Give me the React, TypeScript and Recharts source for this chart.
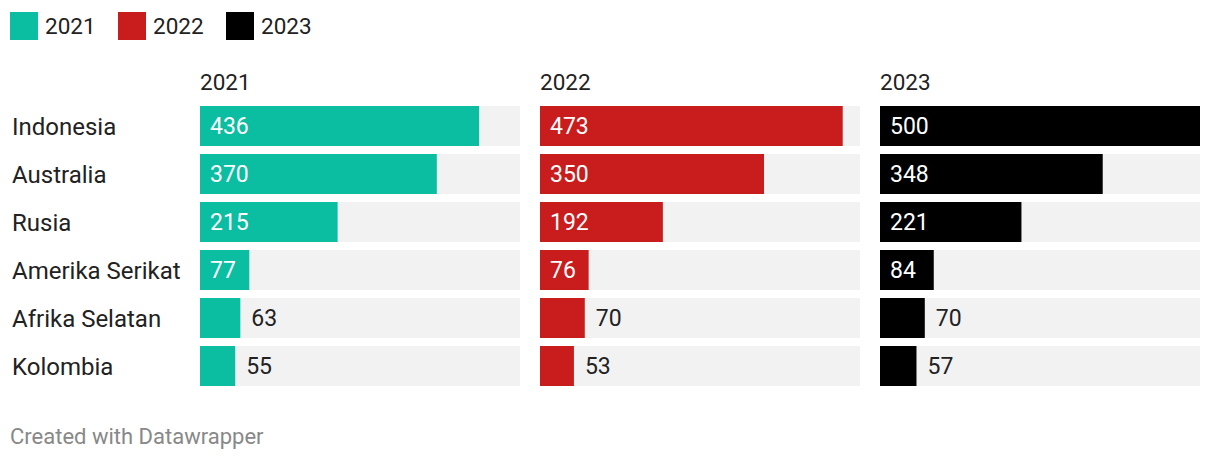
import { Bar, BarChart, LabelList, XAxis, YAxis } from "recharts";

const countries = ["Indonesia", "Australia", "Rusia", "Amerika Serikat", "Afrika Selatan", "Kolombia"];
const years = ["2021", "2022", "2023"];
const values2021 = [436, 370, 215, 77, 63, 55];
const values2022 = [473, 350, 192, 76, 70, 53];
const values2023 = [500, 348, 221, 84, 70, 57];
const yearColors = ["#0bbda1", "#c91d1d", "#000000"];
const seriesByYear = [values2021, values2022, values2023];

const FONT = "Roboto, sans-serif";
const TEXT = "#222222";

const rows = countries.map((country, i) => ({
  country,
  v2021: values2021[i],
  v2022: values2022[i],
  v2023: values2023[i],
}));

function ValueLabel(props: any) {
  const { x, y, width, height, value } = props;
  const inside = width >= 45;
  return (
    <text
      x={inside ? x + 10 : x + width + 11}
      y={y + height / 2}
      dy="0.36em"
      fill={inside ? "#ffffff" : TEXT}
      fontSize={23}
      fontFamily={FONT}
    >
      {value}
    </text>
  );
}

function CountryTick(props: any) {
  const { y, payload } = props;
  return (
    <text x={12} y={y} dy="0.36em" fill={TEXT} fontSize={24} fontFamily={FONT} textAnchor="start">
      {payload.value}
    </text>
  );
}

function Panel({ idx }: { idx: number }) {
  const first = idx === 0;
  const key = `v${years[idx]}`;
  return (
    <BarChart
      width={first ? 520 : 320}
      height={288}
      data={rows}
      layout="vertical"
      margin={{ top: 0, right: 0, bottom: 0, left: 0 }}
    >
      <XAxis type="number" domain={[0, 500]} hide />
      <YAxis
        type="category"
        dataKey="country"
        width={200}
        hide={!first}
        axisLine={false}
        tickLine={false}
        tick={<CountryTick />}
      />
      <Bar
        dataKey={key}
        fill={yearColors[idx]}
        barSize={40}
        background={{ fill: "#f2f2f2" }}
        isAnimationActive={false}
      >
        <LabelList dataKey={key} content={<ValueLabel />} />
      </Bar>
    </BarChart>
  );
}

export default function App() {
  const panelLeft = [0, 540, 880];
  const titleLeft = [200, 540, 880];
  const legendLeft = [10, 118, 226];
  return (
    <div
      style={{
        position: "absolute",
        left: 0,
        top: 0,
        width: 1220,
        height: 464,
        background: "#fff",
        fontFamily: FONT,
        color: TEXT,
      }}
    >
      {years.map((y, i) => (
        <div key={"lg" + y} style={{ position: "absolute", left: legendLeft[i], top: 12, height: 28, display: "flex", alignItems: "center" }}>
          <div style={{ width: 28, height: 28, background: yearColors[i] }} />
          <span style={{ marginLeft: 7, fontSize: 22.5, lineHeight: "28px" }}>{y}</span>
        </div>
      ))}
      {years.map((y, i) => (
        <div key={"t" + y} style={{ position: "absolute", left: titleLeft[i], top: 68, fontSize: 22.5, lineHeight: "28px" }}>
          {y}
        </div>
      ))}
      {seriesByYear.map((_, i) => (
        <div key={"p" + i} style={{ position: "absolute", left: panelLeft[i], top: 102 }}>
          <Panel idx={i} />
        </div>
      ))}
      <div style={{ position: "absolute", left: 10, top: 424, fontSize: 22, color: "#888", lineHeight: "26px" }}>
        Created with Datawrapper
      </div>
    </div>
  );
}
